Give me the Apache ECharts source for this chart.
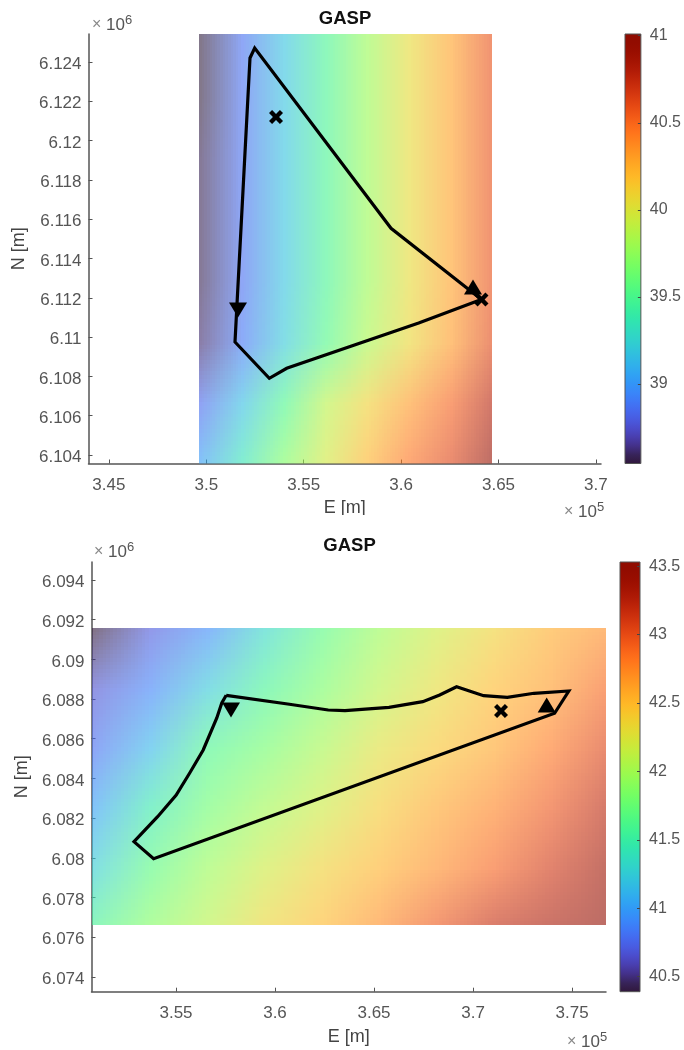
<!DOCTYPE html>
<html><head><meta charset="utf-8">
<style>html,body{margin:0;padding:0;background:#fff}#c{width:684px;height:1050px}</style>
<script src="https://cdn.jsdelivr.net/npm/echarts@6/dist/echarts.min.js"></script>
</head><body><div id="c"></div>
<script>
// ---------- data: top panel ----------
const topXTicks=[345000,350000,355000,360000,365000,370000];
const topYTicks=[6104000,6106000,6108000,6110000,6112000,6114000,6116000,6118000,6120000,6122000,6124000];
const topCbarTicks=[39,39.5,40,40.5,41];
const topEast=[349625,351774,353922,356071,358220,360368,362517,364665];
const topNorth=[6125425,6122302,6119179,6116056,6112933,6109810,6106687,6103564];
const topField=[
[38.57,38.86,39.18,39.48,39.78,40.05,40.29,40.59],
[38.57,38.86,39.18,39.48,39.78,40.05,40.29,40.59],
[38.59,38.86,39.18,39.48,39.78,40.05,40.29,40.59],
[38.59,38.86,39.18,39.48,39.78,40.05,40.29,40.59],
[38.59,38.86,39.18,39.48,39.78,40.05,40.29,40.59],
[38.62,38.89,39.21,39.53,39.83,40.07,40.32,40.62],
[38.84,39.16,39.51,39.88,40.10,40.32,40.52,40.79],
[39.04,39.36,39.70,39.97,40.22,40.47,40.64,41.01]];
const topTrack=[[364126,6111911],[359481,6115535],[352484,6124713],[352243,6124204],[351473,6109748],[353234,6107900],[354127,6108409],[360902,6110715],[364049,6111886]];
const topCross=[[353578,6121200],[364126,6111911]];
const topUp=[[363690,6112548]];
const topDown=[[351627,6111377]];
// ---------- data: bottom panel ----------
const botXTicks=[355000,360000,365000,370000,375000];
const botYTicks=[6074000,6076000,6078000,6080000,6082000,6084000,6086000,6088000,6090000,6092000,6094000];
const botCbarTicks=[40.5,41,41.5,42,42.5,43,43.5];
const botEast=[350733,353620,356507,359394,362281,365168,368055,370942,373829,376715];
const botNorth=[6091556,6088567,6085578,6082590,6079601,6076612];
const botField=[
[40.39,40.70,40.92,41.33,41.68,41.96,42.18,42.37,42.56,42.71],
[40.67,40.89,41.24,41.58,41.83,42.09,42.31,42.49,42.65,42.90],
[40.80,41.14,41.61,41.80,42.02,42.27,42.43,42.59,42.81,43.06],
[41.02,41.46,41.77,41.99,42.18,42.40,42.59,42.75,42.96,43.22],
[41.27,41.68,41.96,42.18,42.37,42.53,42.71,42.90,43.12,43.37],
[41.58,41.87,42.09,42.34,42.49,42.71,42.96,43.18,43.31,43.53]];
const botTrack=[[357535,6088189],[360641,6087750],[362686,6087448],[363535,6087413],[365757,6087584],[367463,6087866],[368317,6088204],[369170,6088622],[370534,6088169],[371731,6088088],[373079,6088290],[374836,6088406],[374119,6087282],[353869,6079954],[352879,6080810],[354071,6082070],[355010,6083164],[355692,6084273],[356374,6085432],[357060,6087045],[357313,6087801],[357535,6088189]];
const botCross=[[371413,6087398]];
const botUp=[[373720,6087700]];
const botDown=[[357778,6087448]];

// ---------- colormap ----------
function turbo(t){t=Math.max(0,Math.min(1,t));
 const r=34.61+t*(1172.33-t*(10793.56-t*(33300.12-t*(38394.49-t*14825.05))));
 const g=23.31+t*(557.33+t*(1225.33-t*(3574.96-t*(1073.77+t*707.56))));
 const b=27.2+t*(3211.1-t*(15327.97-t*(27814-t*(22569.18-t*6838.66))));
 return [Math.max(48,r),g,Math.max(t<.5?59:0,b)].map(v=>Math.max(0,Math.min(255,Math.round(v))));}
const FONT='"Liberation Sans",Arial,sans-serif', TXT='#555', LINE='#555';
function fieldCanvas(field,lo,hi,alpha){
 const cv=document.createElement('canvas');cv.width=field[0].length;cv.height=field.length;
 const ctx=cv.getContext('2d');const im=ctx.createImageData(cv.width,cv.height);
 field.forEach((row,j)=>row.forEach((v,i)=>{const c=turbo((v-lo)/(hi-lo));const k=(j*cv.width+i)*4;
  im.data[k]=c[0];im.data[k+1]=c[1];im.data[k+2]=c[2];im.data[k+3]=Math.round(alpha*255);}));
 ctx.putImageData(im,0,0);return cv;}
function heatSeries(idx,east,north,field,lo,hi){
 const cv=fieldCanvas(field,lo,hi,0.6),cells=[];
 for(let j=0;j<north.length-1;j++)for(let i=0;i<east.length-1;i++)
  cells.push([east[i],north[j],east[i+1],north[j+1],i,j,field[j][i]]);
 return {type:'custom',xAxisIndex:idx,yAxisIndex:idx,z:2,silent:true,clip:true,data:cells,
  encode:{x:[0,2],y:[1,3]},
  renderItem(p,api){
   const a=api.coord([api.value(0),api.value(1)]),b=api.coord([api.value(2),api.value(3)]);
   const x=Math.round(a[0]),y=Math.round(a[1]);
   return {type:'image',style:{image:cv,x,y,width:Math.round(b[0])-x,height:Math.round(b[1])-y,
     sx:api.value(4)+0.5,sy:api.value(5)+0.5,sWidth:1,sHeight:1}};
  }};
}
function cbarSeries(idx,lo,hi){
 const stops=[];for(let i=0;i<=48;i++){const c=turbo(i/48);stops.push({offset:i/48,color:`rgb(${c[0]},${c[1]},${c[2]})`});}
 return {type:'custom',xAxisIndex:idx,yAxisIndex:idx,z:1,silent:true,clip:false,data:[[0,lo,1,hi]],
  encode:{x:[0,2],y:[1,3]},
  renderItem(p,api){
   const a=api.coord([api.value(0),api.value(3)]),b=api.coord([api.value(2),api.value(1)]);
   return {type:'rect',shape:{x:a[0],y:a[1],width:b[0]-a[0],height:b[1]-a[1]},
    style:{fill:{type:'linear',x:0,y:1,x2:0,y2:0,colorStops:stops},stroke:LINE,lineWidth:1}};
  }};
}
const X_PATH='path://M2.2,0 L5,2.8 L7.8,0 L10,2.2 L7.2,5 L10,7.8 L7.8,10 L5,7.2 L2.2,10 L0,7.8 L2.8,5 L0,2.2 Z';
function markerSeries(idx,data,symbol,size,rot){
 return {type:'scatter',xAxisIndex:idx,yAxisIndex:idx,z:4,silent:true,data,symbol,symbolSize:size,symbolRotate:rot||0,
  itemStyle:{color:'#000',opacity:1}};
}
function trackSeries(idx,data){
 return {type:'line',xAxisIndex:idx,yAxisIndex:idx,z:3,silent:true,data,showSymbol:false,symbol:'none',
  lineStyle:{color:'#000',width:3.2,join:'miter'}};
}
const axisBase={splitLine:{show:false},axisLine:{show:true,onZero:false,lineStyle:{color:LINE,width:1.5}}};
function xAx(i,min,max,ticks,gap){return Object.assign({},axisBase,{gridIndex:i,type:'value',min,max,position:'bottom',
 name:'E [m]',nameLocation:'middle',nameGap:gap,nameTextStyle:{color:'#444',fontSize:18,fontFamily:FONT},
 axisTick:{show:true,inside:true,length:4,customValues:ticks,lineStyle:{color:LINE}},
 axisLabel:{color:TXT,fontSize:17,fontFamily:FONT,margin:13,customValues:ticks,formatter:v=>String(+(v/1e5).toFixed(3))}});}
function yAx(i,min,max,ticks,gap){return Object.assign({},axisBase,{gridIndex:i,type:'value',min,max,position:'left',
 name:'N [m]',nameLocation:'middle',nameGap:gap,nameTextStyle:{color:'#444',fontSize:18,fontFamily:FONT},
 axisTick:{show:true,inside:true,length:4,customValues:ticks,lineStyle:{color:LINE}},
 axisLabel:{color:TXT,fontSize:17,fontFamily:FONT,margin:7,customValues:ticks,
  rich:{v:{fontSize:17,fontFamily:FONT,color:TXT,padding:[5,0,0,0]}},
  formatter:v=>'{v|'+(+(v/1e6).toFixed(3))+'}'}});}
function cbX(i){return {gridIndex:i,type:'value',min:0,max:1,show:false};}
function cbY(i,min,max,ticks){return {gridIndex:i,type:'value',min,max,position:'right',z:5,splitLine:{show:false},
 axisLine:{show:false,onZero:false},
 axisTick:{show:true,inside:true,length:3,customValues:ticks,lineStyle:{color:'#444'}},
 axisLabel:{color:TXT,fontSize:16,fontFamily:FONT,margin:9,customValues:ticks,formatter:v=>String(v)}};}
function mult(x,y,exp){return {type:'text',left:x,top:y,z:10,silent:true,style:{
 text:'{a|×}{b| 10}{c|'+exp+'}',font:'17px '+FONT,
 rich:{a:{fontSize:16,fontFamily:FONT,fill:'#888'},b:{fontSize:17,fontFamily:FONT,fill:'#555'},
  c:{fontSize:13,fontFamily:FONT,fill:'#555',padding:[0,0,9,0]}}}};}

const chart=echarts.init(document.getElementById('c'),null,{renderer:'canvas',width:684,height:1050});
chart.setOption({
 animation:false,backgroundColor:'#fff',
 title:[
  {text:'GASP',left:340,top:4,textAlign:'center',textStyle:{fontSize:18.5,fontWeight:'bold',color:'#111',fontFamily:FONT}},
  {text:'GASP',left:344.5,top:531,textAlign:'center',textStyle:{fontSize:18.5,fontWeight:'bold',color:'#111',fontFamily:FONT}}],
 grid:[
  {left:88.5,top:34,width:512.5,height:429.5},
  {left:91.5,top:562,width:514.5,height:429.7},
  {left:625,top:34,width:20,height:429.5},
  {left:620,top:562,width:20,height:429.7}],
 xAxis:[xAx(0,343953,370260,topXTicks,36),xAx(1,350733,376715,botXTicks,36),cbX(2),cbX(3)],
 yAxis:[yAx(0,6103564,6125425,topYTicks,50),yAx(1,6073250,6094907,botYTicks,52),
  cbY(2,38.543,41.01,topCbarTicks),cbY(3,40.39,43.53,botCbarTicks)],
 series:[
  heatSeries(0,topEast,topNorth,topField,38.543,41.01),
  trackSeries(0,topTrack),
  markerSeries(0,topCross,X_PATH,14),
  markerSeries(0,topUp,'triangle',[18,15]),
  markerSeries(0,topDown,'triangle',[18,15],180),
  heatSeries(1,botEast,botNorth,botField,40.39,43.53),
  trackSeries(1,botTrack),
  markerSeries(1,botCross,X_PATH,14),
  markerSeries(1,botUp,'triangle',[18,15]),
  markerSeries(1,botDown,'triangle',[18,15],180),
  cbarSeries(2,38.543,41.01),
  cbarSeries(3,40.39,43.53)],
 graphic:[mult(92,14,'6'),mult(94,541,'6'),mult(564,501,'5'),mult(567,1031,'5'),
  {type:'rect',left:0,top:515,z:9,silent:true,shape:{width:684,height:10},style:{fill:'#fff'}}]
});
</script></body></html>
